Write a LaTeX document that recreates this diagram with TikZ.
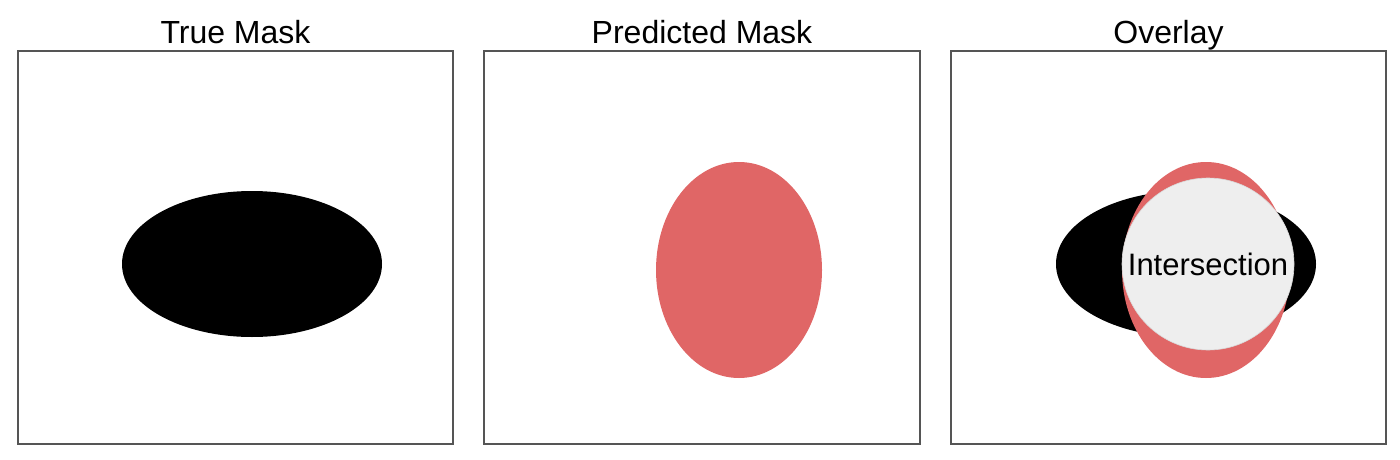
\documentclass[tikz,border=0pt]{standalone}
\usepackage{fontspec}
\setmainfont{Liberation Sans}
\definecolor{predred}{HTML}{E06666}
\definecolor{isect}{HTML}{EEEEEE}
\definecolor{frame}{HTML}{555555}
\begin{document}
\begin{tikzpicture}[x=1pt,y=-1pt,
  panel/.style={draw=frame,line width=1.5pt,fill=white},
  ttl/.style={anchor=base,font=\fontsize{32}{36}\selectfont,inner sep=0pt},
  truem/.style={fill=black},
  predm/.style={fill=predred}]
\useasboundingbox (0,0) rectangle (1400,460);
\fill[white] (0,0) rectangle (1400,460);
% panels
\draw[panel] (18,51) rectangle (453,444);
\draw[panel] (484,51) rectangle (920,444);
\draw[panel] (951,51) rectangle (1386,444);
% titles
\node[ttl] (t1) at (235.5,44) {True Mask};
\node[ttl] (t2) at (702,44) {Predicted Mask};
\node[ttl] (t3) at (1168.5,44) {Overlay};
% panel 1
\fill[truem] (252,264) ellipse [x radius=130, y radius=73];
% panel 2
\fill[predm] (739,270) ellipse [x radius=83, y radius=108];
% overlay
\fill[truem] (1186,264) ellipse [x radius=130, y radius=73];
\fill[predm] (1206,270) ellipse [x radius=84, y radius=108];
\fill[isect,draw=white!85!black,line width=0.6pt] (1208,264) circle [radius=86];
\node[font=\fontsize{31}{36}\selectfont,inner sep=0pt,anchor=base] (ix) at (1208,275) {Intersection};
\end{tikzpicture}
\end{document}
